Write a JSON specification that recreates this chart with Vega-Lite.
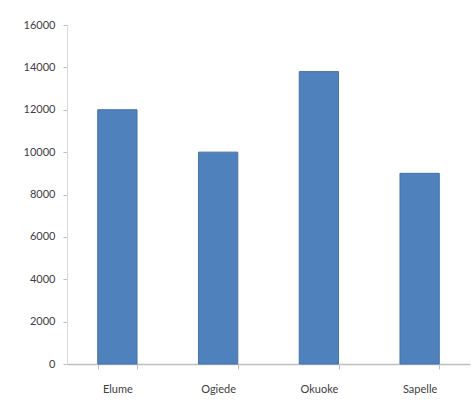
{
  "$schema": "https://vega.github.io/schema/vega-lite/v6.json",
  "width": 403,
  "height": 339,
  "autosize": {"type": "none"},
  "padding": {"left": 67, "top": 25, "right": 5, "bottom": 46},
  "background": "white",
  "data": {
    "values": [
      {"location": "Elume", "value": 12000},
      {"location": "Ogiede", "value": 10000},
      {"location": "Okuoke", "value": 13800},
      {"location": "Sapelle", "value": 9000}
    ]
  },
  "mark": {"type": "bar", "color": "#4F81BD", "stroke": "#4472A8", "strokeWidth": 1},
  "encoding": {
    "x": {
      "field": "location",
      "type": "nominal",
      "sort": null,
      "scale": {"paddingInner": 0.61, "paddingOuter": 0.305},
      "axis": {
        "title": null,
        "labelAngle": 0,
        "labelFont": "Lato",
        "labelFontSize": 11,
        "labelColor": "#404040",
        "labelPadding": 14,
        "domainColor": "#BFBFBF",
        "domainWidth": 1.5,
        "tickColor": "#BFBFBF",
        "tickBand": "extent",
        "tickSize": 5,
        "grid": false
      }
    },
    "y": {
      "field": "value",
      "type": "quantitative",
      "scale": {"domain": [0, 16000], "nice": false},
      "axis": {
        "title": null,
        "values": [0, 2000, 4000, 6000, 8000, 10000, 12000, 14000, 16000],
        "format": "d",
        "labelFont": "Lato",
        "labelFontSize": 11,
        "labelColor": "#404040",
        "labelPadding": 8,
        "domainColor": "#D9D9D9",
        "tickColor": "#BFBFBF",
        "tickSize": 4,
        "grid": false
      }
    }
  },
  "config": {"view": {"stroke": null}}
}
